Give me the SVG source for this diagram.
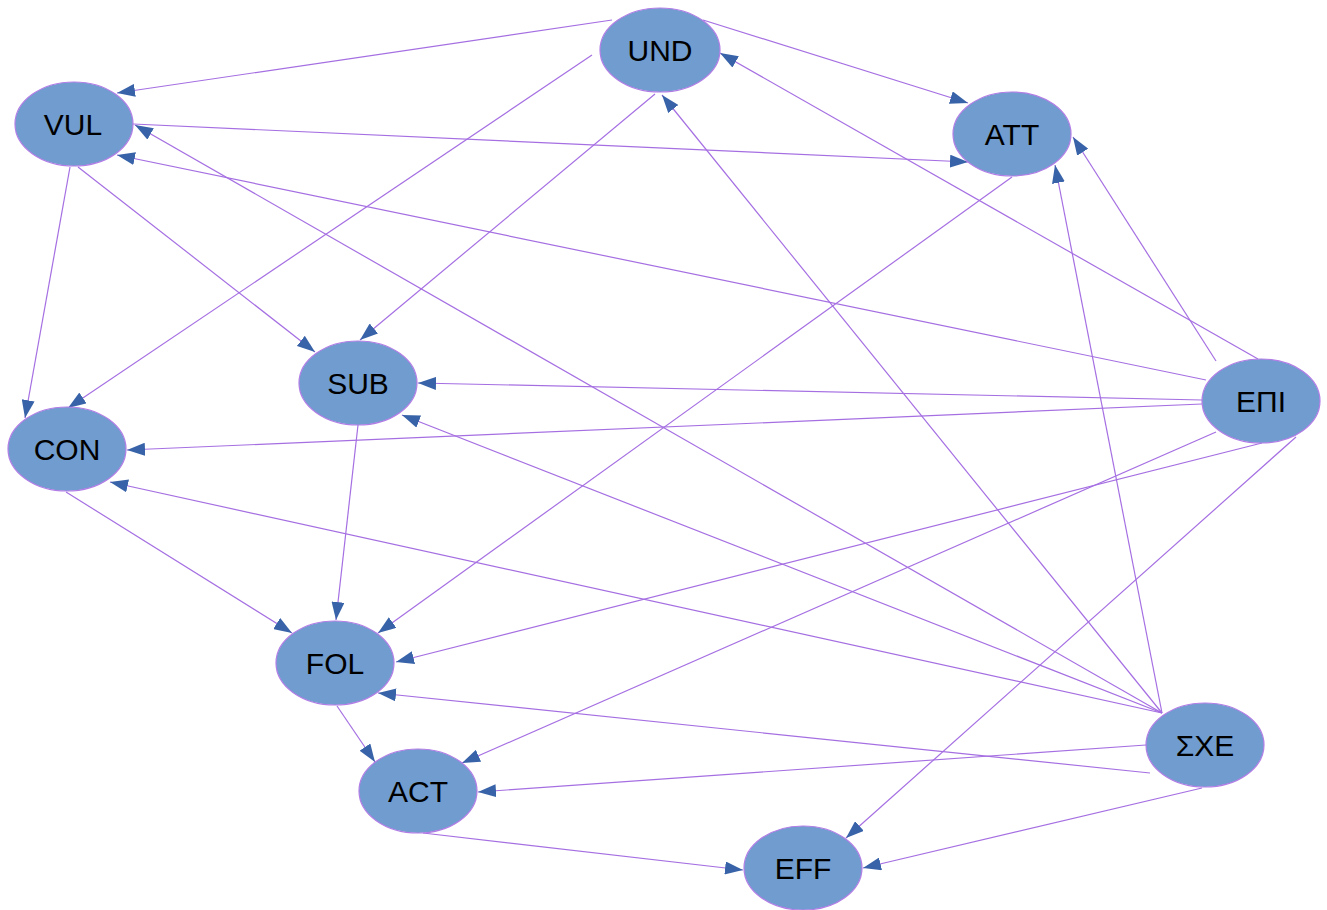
<svg xmlns="http://www.w3.org/2000/svg" width="1327" height="910" viewBox="0 0 1327 910">
<defs>
<style>
.n ellipse{fill:#709ccf;stroke:#b27ee6;stroke-width:1.2}
.n text{font-family:"Liberation Sans",Arial,sans-serif;font-size:30px;fill:#000;text-anchor:middle}
#edges line{stroke:#a56fe2;stroke-width:1.2;marker-end:url(#ah)}
</style>
<marker id="ah" markerUnits="userSpaceOnUse" markerWidth="18" markerHeight="13" refX="18" refY="6.5" orient="auto">
<path d="M0,0 L18,6.5 L0,13 z" fill="#3863a8"/>
</marker>
</defs>
<rect width="1327" height="910" fill="#fff"/>
<g id="edges">
<line x1="612" y1="20" x2="117" y2="93"/>
<line x1="703" y1="20" x2="968" y2="103"/>
<line x1="592" y1="55" x2="68" y2="408"/>
<line x1="655" y1="94" x2="360" y2="340"/>
<line x1="133" y1="124" x2="968" y2="162"/>
<line x1="70" y1="167" x2="25" y2="418"/>
<line x1="78" y1="167" x2="315" y2="352"/>
<line x1="1012" y1="177" x2="378" y2="633"/>
<line x1="1258" y1="359" x2="720" y2="53"/>
<line x1="1216" y1="361" x2="1073" y2="137"/>
<line x1="1206" y1="380" x2="117" y2="155"/>
<line x1="1202" y1="400" x2="418" y2="383"/>
<line x1="1202" y1="404" x2="127" y2="450"/>
<line x1="1262" y1="443" x2="396" y2="662"/>
<line x1="1216" y1="432" x2="462" y2="763"/>
<line x1="1296" y1="437" x2="846" y2="838"/>
<line x1="1162" y1="713" x2="135" y2="125"/>
<line x1="1162" y1="713" x2="662" y2="95"/>
<line x1="1162" y1="713" x2="1055" y2="165"/>
<line x1="1162" y1="713" x2="402" y2="415"/>
<line x1="1162" y1="713" x2="110" y2="482"/>
<line x1="1150" y1="773" x2="378" y2="693"/>
<line x1="1146" y1="745" x2="478" y2="792"/>
<line x1="1202" y1="788" x2="863" y2="868"/>
<line x1="358" y1="425" x2="336" y2="620"/>
<line x1="66" y1="492" x2="292" y2="633"/>
<line x1="337" y1="706" x2="375" y2="762"/>
<line x1="423" y1="833" x2="743" y2="870"/>
</g>
<g id="UND" class="n"><ellipse cx="660" cy="50" rx="60" ry="42"/><text x="660" y="61">UND</text></g>
<g id="VUL" class="n"><ellipse cx="74" cy="124" rx="59" ry="42"/><text x="73" y="135">VUL</text></g>
<g id="ATT" class="n"><ellipse cx="1012" cy="134" rx="59" ry="42"/><text x="1012" y="145">ATT</text></g>
<g id="SUB" class="n"><ellipse cx="358" cy="383" rx="59" ry="42"/><text x="358" y="394">SUB</text></g>
<g id="CON" class="n"><ellipse cx="67" cy="449" rx="59" ry="42"/><text x="67" y="460">CON</text></g>
<g id="EPI" class="n"><ellipse cx="1261" cy="401" rx="59" ry="42"/><text x="1261" y="412">ΕΠΙ</text></g>
<g id="FOL" class="n"><ellipse cx="335" cy="663" rx="59" ry="42"/><text x="335" y="674">FOL</text></g>
<g id="SXE" class="n"><ellipse cx="1205" cy="745" rx="59" ry="42"/><text x="1205" y="756">ΣΧΕ</text></g>
<g id="ACT" class="n"><ellipse cx="418" cy="791" rx="59" ry="42"/><text x="418" y="802">ACT</text></g>
<g id="EFF" class="n"><ellipse cx="803" cy="868" rx="59" ry="42"/><text x="803" y="879">EFF</text></g>
</svg>
